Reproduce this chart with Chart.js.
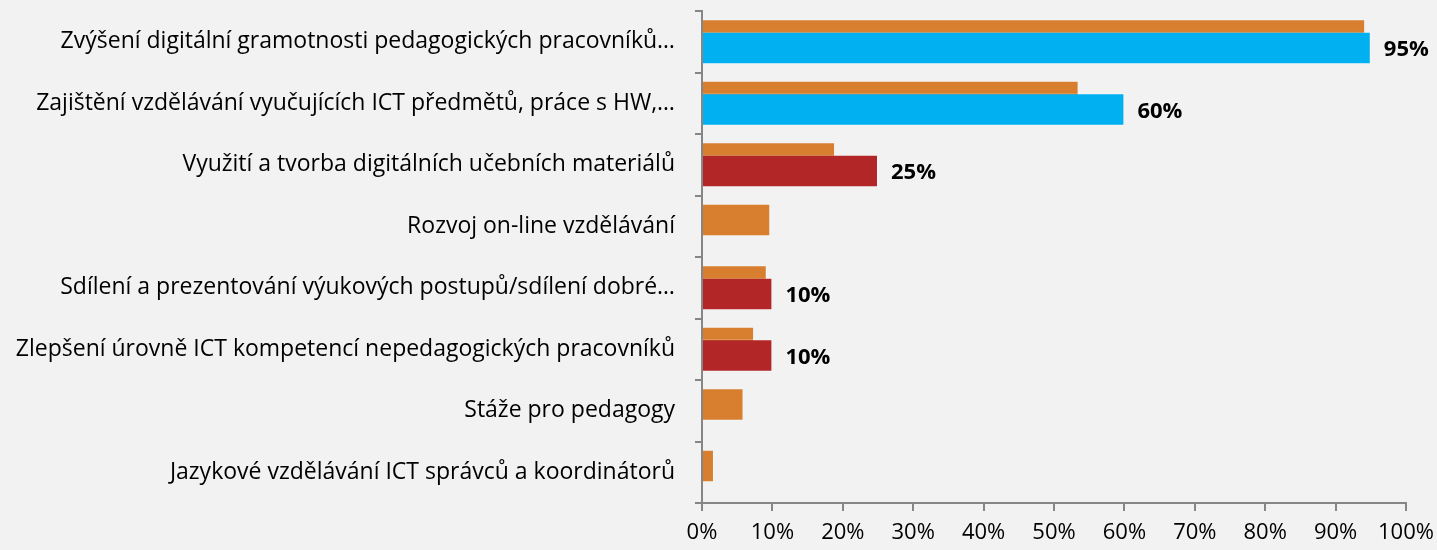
<!DOCTYPE html>
<html>
<head>
<meta charset="utf-8">
<script src="https://cdn.jsdelivr.net/npm/chart.js@4.4.1/dist/chart.umd.min.js"></script>
<style>
  html, body { margin: 0; padding: 0; background: #F2F2F2; }
  #wrap { width: 1437px; height: 550px; position: relative; }
</style>
</head>
<body>
<div id="wrap"><canvas id="c"></canvas></div>
<script>
const categories = [
  "Zvýšení digitální gramotnosti pedagogických pracovníků…",
  "Zajištění vzdělávání vyučujících ICT předmětů, práce s HW,…",
  "Využití a tvorba digitálních učebních materiálů",
  "Rozvoj on-line vzdělávání",
  "Sdílení a prezentování výukových postupů/sdílení dobré…",
  "Zlepšení úrovně ICT kompetencí nepedagogických pracovníků",
  "Stáže pro pedagogy",
  "Jazykové vzdělávání ICT správců a koordinátorů"
];
const seriesAll = [94.2, 53.5, 18.9, 9.7, 9.2, 7.4, 5.9, 1.7];
const seriesSchool = [95, 60, 25, null, 10, 10, null, null];
const schoolColors = ["#00B0F0", "#00B0F0", "#B22627", "#B22627", "#B22627", "#B22627", "#B22627", "#B22627"];
const xTicks = [0, 10, 20, 30, 40, 50, 60, 70, 80, 90, 100];

const FONT = "'Open Sans', sans-serif";

const forwardDraw = {
  id: 'forwardDraw',
  beforeDatasetsDraw(chart) {
    for (let i = 0; i < chart.data.datasets.length; i++) {
      const meta = chart.getDatasetMeta(i);
      if (!meta.hidden) meta.controller.draw();
    }
    return false;
  }
};

const valueLabels = {
  id: 'valueLabels',
  afterDraw(chart) {
    const ctx = chart.ctx;
    const meta = chart.getDatasetMeta(1);
    ctx.save();
    ctx.font = "bold 22px " + FONT;
    ctx.fillStyle = "#000";
    ctx.textAlign = "left";
    ctx.textBaseline = "middle";
    meta.data.forEach((bar, i) => {
      const v = seriesSchool[i];
      if (v === null) return;
      ctx.fillText(v + "%", bar.x + 13, bar.y + 2);
    });
    ctx.restore();
  }
};

new Chart(document.getElementById('c'), {
  type: 'bar',
  data: {
    labels: categories,
    datasets: [
      {
        label: 'Všechny',
        data: seriesAll,
        backgroundColor: '#D87F2F',
        borderColor: 'rgba(255,255,255,0.3)',
        borderWidth: 1,
        categoryPercentage: 0.4065,
        barPercentage: 2.6
      },
      {
        label: 'Škola',
        data: seriesSchool,
        backgroundColor: schoolColors,
        borderColor: 'rgba(255,255,255,0.3)',
        borderWidth: 1,
        categoryPercentage: 0.4065,
        barPercentage: 2.6
      }
    ]
  },
  options: {
    indexAxis: 'y',
    responsive: true,
    maintainAspectRatio: false,
    animation: false,
    layout: { padding: { left: 0, right: 31, top: 11, bottom: 0 } },
    plugins: { legend: { display: false }, tooltip: { enabled: false }, title: { display: false } },
    scales: {
      x: {
        min: 0, max: 100,
        afterBuildTicks(scale) { scale.ticks = xTicks.map(v => ({ value: v })); },
        afterFit(scale) { scale.height = 47; scale.paddingLeft = 0; scale.paddingRight = 0; },
        ticks: {
          callback: v => v + '%',
          color: '#000',
          font: { family: FONT, size: 22 },
          padding: 9,
          maxRotation: 0,
          autoSkip: false
        },
        grid: { drawOnChartArea: false, drawTicks: true, tickLength: 8, color: '#868686', lineWidth: 2 },
        border: { display: true, color: '#868686', width: 2 }
      },
      y: {
        afterFit(scale) { scale.width = 702; scale.paddingTop = 0; scale.paddingBottom = 0; },
        ticks: {
          color: '#000',
          font: { family: FONT, size: 23 },
          padding: 20,
          autoSkip: false
        },
        grid: { drawOnChartArea: false, drawTicks: true, tickLength: 7, color: '#868686', lineWidth: 2, offset: true },
        border: { display: true, color: '#868686', width: 2 }
      }
    }
  },
  plugins: [forwardDraw, valueLabels]
});
</script>
</body>
</html>
